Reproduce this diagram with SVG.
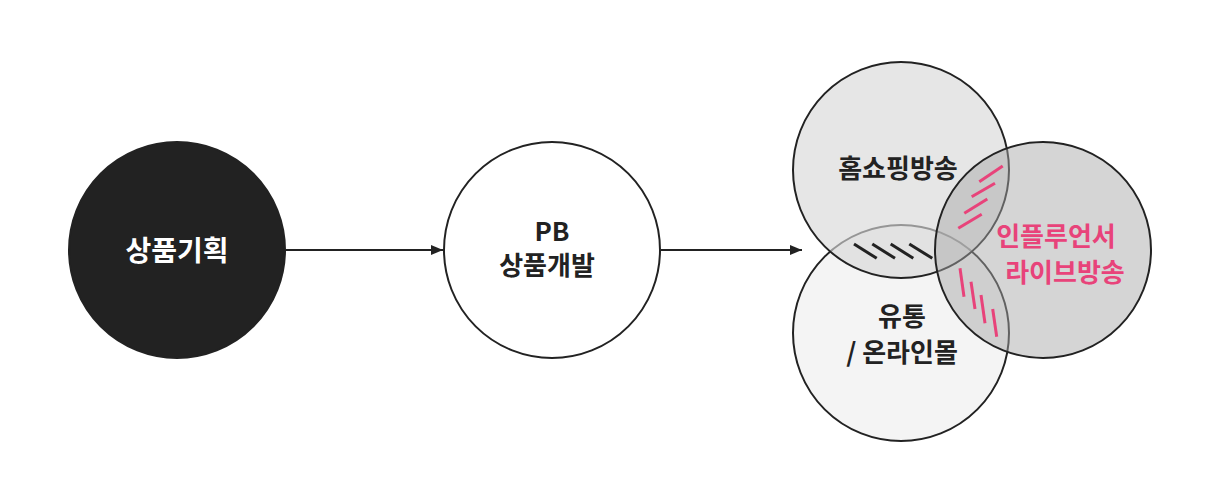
<svg xmlns="http://www.w3.org/2000/svg" width="1218" height="502" viewBox="0 0 1218 502">
<defs>
<style>
.t{font-family:"Noto Sans CJK KR","Noto Sans",sans-serif;font-weight:700;text-anchor:middle;fill:#222}
.ln{stroke:#222;stroke-width:2;fill:none}
.c{stroke:#222;stroke-width:2}
.hb{stroke:#222;stroke-width:3;stroke-linecap:butt}
.hp{stroke:#e8437a;stroke-width:3;stroke-linecap:butt}
</style>
<marker id="ah" viewBox="0 0 12 10" refX="12" refY="5" markerWidth="12" markerHeight="10" markerUnits="userSpaceOnUse" orient="auto">
<path d="M0,0 L12,5 L0,10 Z" fill="#222"/>
</marker>
</defs>
<rect width="1218" height="502" fill="#fff"/>
<g id="connectors">
<line class="ln" x1="286" y1="250" x2="443" y2="250" marker-end="url(#ah)"/>
<line class="ln" x1="661" y1="250" x2="802" y2="250" marker-end="url(#ah)"/>
</g>
<g id="node-planning">
<circle cx="177" cy="250" r="108" fill="#222" stroke="#222" stroke-width="2"/>
<text class="t" x="177" y="261" font-size="28" style="fill:#fff">상품기획</text>
</g>
<g id="node-pb">
<circle class="c" cx="552" cy="250" r="108" fill="#fff"/>
<text class="t" x="552" y="241" font-size="26">PB</text>
<text class="t" x="547" y="275" font-size="26">상품개발</text>
</g>
<g id="node-distribution">
<circle class="c" cx="901" cy="333" r="108" fill="#f4f4f4"/>
</g>
<g id="node-homeshopping">
<circle class="c" cx="901" cy="170" r="108" fill="#d8d8d8" fill-opacity="0.64"/>
</g>
<g id="node-influencer">
<circle class="c" cx="1043" cy="250" r="108" fill="#a8a8a8" fill-opacity="0.48"/>
</g>
<g id="hatching">
<line class="hb" x1="854" y1="244" x2="876.7" y2="258.3"/>
<line class="hb" x1="872.3" y1="244" x2="895" y2="258.3"/>
<line class="hb" x1="890.7" y1="244" x2="913.3" y2="258.3"/>
<line class="hb" x1="909.3" y1="244" x2="932.3" y2="258.3"/>
<line class="hp" x1="979.3" y1="181.7" x2="1002.7" y2="166"/>
<line class="hp" x1="971.7" y1="196.7" x2="995" y2="183.3"/>
<line class="hp" x1="964.3" y1="213.3" x2="987.3" y2="199"/>
<line class="hp" x1="958.3" y1="228.3" x2="981.7" y2="214.3"/>
<line class="hp" x1="960" y1="268.3" x2="964" y2="296.7"/>
<line class="hp" x1="971" y1="281.7" x2="975" y2="309"/>
<line class="hp" x1="981" y1="295" x2="985" y2="323.3"/>
<line class="hp" x1="992.7" y1="309" x2="996.7" y2="336.7"/>
</g>
<g id="labels">
<text class="t" x="898" y="178" font-size="26">홈쇼핑방송</text>
<text class="t" x="902" y="326" font-size="26">유통</text>
<text class="t" x="902" y="362" font-size="26">/ 온라인몰</text>
<text class="t" x="1056" y="246" font-size="26" style="fill:#e8437a">인플루언서</text>
<text class="t" x="1065" y="282" font-size="26" style="fill:#e8437a">라이브방송</text>
</g>
</svg>
